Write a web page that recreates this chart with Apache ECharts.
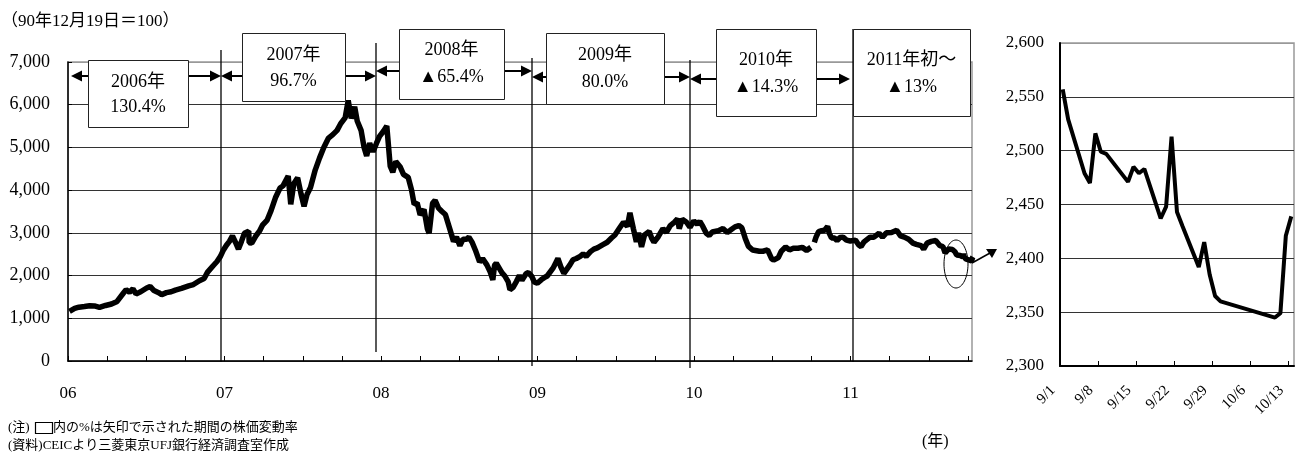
<!DOCTYPE html>
<html>
<head>
<meta charset="utf-8">
<script src="https://cdn.jsdelivr.net/npm/echarts@6/dist/echarts.min.js"></script>
<style>
html,body{margin:0;padding:0;background:#fff;}
#chart{width:1299px;height:461px;}
</style>
</head>
<body>
<div id="chart"></div>
<script>
// Shanghai Composite index (1990-12-19 = 100), selected closes Jan 2006 – Aug 2011
const mainDates = [
  '2006-01-04','2006-01-16','2006-01-26','2006-02-08','2006-02-20','2006-03-03','2006-03-15','2006-03-29',
  '2006-04-12','2006-04-25','2006-05-09','2006-05-16','2006-05-24','2006-06-01','2006-06-08','2006-06-19',
  '2006-07-03','2006-07-11','2006-07-20','2006-07-31','2006-08-07','2006-08-18','2006-08-29','2006-09-08',
  '2006-09-22','2006-10-09','2006-10-20','2006-11-03','2006-11-14','2006-11-22','2006-12-05','2006-12-14',
  '2006-12-22','2006-12-29',
  '2007-01-05','2007-01-12','2007-01-19','2007-01-26','2007-02-02','2007-02-09','2007-02-16','2007-02-26',
  '2007-02-27','2007-03-05','2007-03-14','2007-03-23','2007-03-30','2007-04-10','2007-04-19','2007-04-30',
  '2007-05-10','2007-05-17','2007-05-29','2007-06-04','2007-06-11','2007-06-20','2007-06-28','2007-07-05',
  '2007-07-12','2007-07-20','2007-07-31','2007-08-10','2007-08-20','2007-08-31','2007-09-10','2007-09-20',
  '2007-09-28','2007-10-09','2007-10-16','2007-10-23','2007-10-31','2007-11-06','2007-11-15','2007-11-22',
  '2007-11-28','2007-12-05','2007-12-13','2007-12-21','2007-12-28',
  '2008-01-07','2008-01-14','2008-01-22','2008-01-28','2008-02-04','2008-02-14','2008-02-22','2008-03-04',
  '2008-03-12','2008-03-18','2008-03-25','2008-04-01','2008-04-10','2008-04-18','2008-04-22','2008-04-30',
  '2008-05-06','2008-05-14','2008-05-22','2008-05-30','2008-06-10','2008-06-18','2008-06-25','2008-07-03',
  '2008-07-10','2008-07-18','2008-07-24','2008-08-01','2008-08-08','2008-08-18','2008-08-25','2008-09-04',
  '2008-09-12','2008-09-18','2008-09-22','2008-09-26','2008-10-09','2008-10-16','2008-10-24','2008-10-28',
  '2008-11-04','2008-11-12','2008-11-19','2008-11-25','2008-12-05','2008-12-10','2008-12-18','2008-12-24',
  '2008-12-31',
  '2009-01-09','2009-01-16','2009-01-23','2009-02-06','2009-02-13','2009-02-17','2009-02-24','2009-03-03',
  '2009-03-10','2009-03-17','2009-03-24','2009-04-01','2009-04-10','2009-04-17','2009-04-24','2009-05-04',
  '2009-05-12','2009-05-20','2009-06-01','2009-06-12','2009-06-22','2009-06-30','2009-07-10','2009-07-20',
  '2009-07-29','2009-08-04','2009-08-12','2009-08-19','2009-08-24','2009-08-31','2009-09-07','2009-09-18',
  '2009-09-24','2009-09-29','2009-10-09','2009-10-20','2009-10-28','2009-11-06','2009-11-16','2009-11-23',
  '2009-11-27','2009-12-04','2009-12-14','2009-12-22','2009-12-31',
  '2010-01-08','2010-01-14','2010-01-21','2010-01-29','2010-02-05','2010-02-12','2010-02-26','2010-03-09',
  '2010-03-19','2010-03-26','2010-04-06','2010-04-15','2010-04-22','2010-04-30','2010-05-07','2010-05-17',
  '2010-05-21','2010-06-02','2010-06-10','2010-06-21','2010-06-30','2010-07-05','2010-07-16','2010-07-23',
  '2010-08-02','2010-08-11','2010-08-20','2010-08-31','2010-09-10','2010-09-20','2010-09-30','2010-10-05',
  '2010-10-08','2010-10-12','2010-10-18','2010-10-25','2010-11-01','2010-11-08','2010-11-12','2010-11-17',
  '2010-11-24','2010-11-30','2010-12-07','2010-12-14','2010-12-22','2010-12-31',
  '2011-01-04','2011-01-12','2011-01-20','2011-01-25','2011-02-01','2011-02-15','2011-02-24','2011-03-08',
  '2011-03-16','2011-03-25','2011-04-06','2011-04-18','2011-04-27','2011-05-06','2011-05-16','2011-05-26',
  '2011-06-03','2011-06-14','2011-06-20','2011-06-28','2011-07-08','2011-07-18','2011-07-28','2011-08-04',
  '2011-08-09','2011-08-17','2011-08-26'
];
const mainValues = [
  1161,1230,1260,1275,1295,1290,1255,1300,
  1335,1395,1580,1670,1610,1690,1570,1620,
  1710,1745,1650,1600,1555,1600,1620,1660,
  1700,1760,1790,1880,1930,2080,2230,2330,
  2450,2600,
  2710,2800,2930,2780,2620,2800,2990,3040,
  2770,2760,2920,3040,3180,3300,3520,3840,
  4050,4100,4330,3670,4150,4290,3910,3620,
  3900,4060,4470,4750,5000,5220,5300,5400,
  5550,5700,6100,5680,5950,5620,5400,5000,
  4800,5100,4900,5100,5260,
  5390,5500,4560,4420,4670,4550,4370,4300,
  4000,3670,3700,3420,3550,3090,2990,3690,
  3760,3580,3500,3430,3070,2800,2900,2700,
  2850,2850,2900,2770,2600,2320,2400,2250,
  2080,1900,2240,2290,2070,1990,1850,1670,
  1720,1860,2000,1890,2050,2070,1980,1850,
  1820,
  1900,1950,1990,2180,2320,2400,2200,2050,
  2150,2250,2370,2400,2450,2510,2450,2560,
  2620,2650,2720,2780,2880,2950,3100,3250,
  3150,3470,3100,2790,3000,2670,2950,3030,
  2870,2780,2910,3100,3010,3170,3250,3330,
  3100,3320,3250,3130,3280,
  3200,3270,3150,2990,2940,3020,3050,3100,
  3010,3060,3140,3170,3120,2870,2690,2600,
  2580,2570,2570,2600,2400,2360,2420,2570,
  2670,2600,2640,2640,2660,2590,2660,null,
  2780,2900,3030,3050,3060,3150,2990,2880,
  2880,2820,2890,2900,2830,2810,
  2850,2830,2710,2680,2790,2900,2900,2990,
  2900,3000,3010,3060,2930,2900,2850,2760,
  2730,2700,2620,2760,2800,2820,2700,2680,
  2530,2620,2610
];
// Daily closes, 1 Sep – 13 Oct 2011
const detailDates = [
  '2011-09-01','2011-09-02','2011-09-05','2011-09-06','2011-09-07','2011-09-08','2011-09-09','2011-09-13',
  '2011-09-14','2011-09-15','2011-09-16','2011-09-19','2011-09-20','2011-09-21','2011-09-22','2011-09-23',
  '2011-09-26','2011-09-27','2011-09-28','2011-09-29','2011-09-30','2011-10-10','2011-10-11','2011-10-12',
  '2011-10-13'
];
const detailValues = [
  2557,2529,2479,2470,2516,2499,2497,2471,
  2485,2479,2483,2437,2448,2513,2443,2430,
  2392,2415,2385,2365,2360,2345,2349,2421,
  2439
];
const yearLabels = ['06','07','08','09','10','11'];
const detailTickLabels = ['9/1','9/8','9/15','9/22','9/29','10/6','10/13'];
const periodLabels = [
  ['2006年','130.4%'],['2007年','96.7%'],['2008年','▲65.4%'],
  ['2009年','80.0%'],['2010年','▲14.3%'],['2011年初～','▲13%']
];

const FONT = "'Liberation Serif','Noto Sans CJK JP',serif";

function decYear(s) {
  const [y, m, d] = s.split('-').map(Number);
  const a = Date.UTC(y, 0, 1), b = Date.UTC(y + 1, 0, 1);
  return y + (Date.UTC(y, m - 1, d) - a + 43200000) / (b - a);
}
const DETAIL_START = Date.UTC(2011, 8, 1);
function dayOffset(s) {
  const [y, m, d] = s.split('-').map(Number);
  return (Date.UTC(y, m - 1, d) - DETAIL_START) / 864e5 + 0.5;
}

const mainData = mainDates.map((d, i) => [decYear(d), mainValues[i]])
  .concat(detailDates.map((d, i) => [decYear(d), detailValues[i]]));
const detailData = detailDates.map((d, i) => [dayOffset(d), detailValues[i]]);

// annotation layout (px)
const boxLayout = [
  {x: 88,  y: 60, w: 100, h: 67, ty: [82, 107]},
  {x: 242, y: 33, w: 103, h: 68, ty: [55, 81]},
  {x: 399, y: 29, w: 105, h: 70, ty: [50, 77]},
  {x: 546, y: 33, w: 118, h: 71, ty: [55, 82]},
  {x: 716, y: 29, w: 100, h: 87, ty: [60, 87]},
  {x: 853, y: 29, w: 117, h: 87, ty: [60, 87]}
];
const arrowLayout = [[71, 221, 76], [221, 376, 76], [376, 532, 71], [532, 690, 77], [690, 850, 79]];
const dividerLayout = [[221, 50, 362], [376, 43, 352], [532, 58, 366], [690, 60, 368], [853, 29, 362]];

const g = [];
dividerLayout.forEach(([x, y1, y2]) => g.push({
  type: 'line', z: 10, shape: {x1: x, y1: y1, x2: x, y2: y2},
  style: {stroke: '#000', lineWidth: 1.3}
}));
function head(tipX, y, dir) {
  const L = 11, H = 5.5;
  return {type: 'polygon', z: 11, shape: {points: [[tipX, y], [tipX - dir * L, y - H], [tipX - dir * L, y + H]]},
          style: {fill: '#000'}};
}
arrowLayout.forEach(([x1, x2, y]) => {
  g.push({type: 'line', z: 11, shape: {x1: x1 + 4, y1: y, x2: x2 - 4, y2: y}, style: {stroke: '#000', lineWidth: 2}});
  g.push(head(x1, y, -1));
  g.push(head(x2, y, 1));
});
boxLayout.forEach((b, i) => {
  g.push({type: 'rect', z: 12, shape: {x: b.x + 0.5, y: b.y + 0.5, width: b.w, height: b.h},
          style: {fill: '#fff', stroke: '#222', lineWidth: 1}});
  periodLabels[i].forEach((t, k) => g.push({
    type: 'text', z: 13, x: b.x + b.w / 2, y: b.ty[k],
    style: {text: t, font: '18px ' + FONT, fill: '#000', align: 'center', verticalAlign: 'middle',
            textAlign: 'center', textVerticalAlign: 'middle'}
  }));
});
// highlighted end of the series and pointer to the detail panel
g.push({type: 'ellipse', z: 12, shape: {cx: 956, cy: 264, rx: 12, ry: 24},
        style: {fill: 'none', stroke: '#000', lineWidth: 1}});
g.push({type: 'line', z: 12, shape: {x1: 972, y1: 263, x2: 990, y2: 253}, style: {stroke: '#000', lineWidth: 1.5}});
g.push({type: 'polygon', z: 12, shape: {points: [[997, 249], [986, 249], [992, 258]]}, style: {fill: '#000'}});

function txt(x, y, s, size, align) {
  return {type: 'text', z: 13, x: x, y: y,
          style: {text: s, font: size + 'px ' + FONT, fill: '#000', align: align || 'left', verticalAlign: 'middle',
                  textAlign: align || 'left', textVerticalAlign: 'middle'}};
}
g.push(txt(1, 22, '（90年12月19日＝100）', 17));
g.push(txt(922, 442, '(年)', 16));
g.push(txt(8, 428, '(注)', 13));
g.push({type: 'rect', z: 13, shape: {x: 35.5, y: 422.5, width: 17, height: 11}, style: {fill: 'none', stroke: '#000', lineWidth: 1.2}});
g.push(txt(53, 428, '内の%は矢印で示された期間の株価変動率', 13));
g.push(txt(8, 446, '(資料)CEICより三菱東京UFJ銀行経済調査室作成', 13));

const axisFont = {fontFamily: FONT, color: '#000'};

const option = {
  animation: false,
  backgroundColor: '#fff',
  grid: [
    {left: 68, top: 62, width: 904, height: 299, show: true, borderColor: '#999', borderWidth: 1.5, backgroundColor: 'transparent'},
    {left: 1060, top: 43, width: 234, height: 323, show: true, borderColor: '#999', borderWidth: 1.5, backgroundColor: 'transparent'}
  ],
  xAxis: [
    {
      type: 'value', gridIndex: 0, min: 2006, max: 2011.776, interval: 0.25,
      axisLine: {lineStyle: {color: '#000', width: 1.5}},
      axisTick: {inside: true, length: 5, lineStyle: {color: '#000', width: 1}},
      axisLabel: Object.assign({fontSize: 17, margin: 24, showMaxLabel: false,
        formatter: v => Number.isInteger(v) ? (yearLabels[v - 2006] || '') : ''}, axisFont),
      splitLine: {show: false}
    },
    {
      type: 'value', gridIndex: 1, min: 0, max: 43, interval: 7,
      axisLine: {lineStyle: {color: '#000', width: 2}},
      axisTick: {inside: true, length: 5, lineStyle: {color: '#000', width: 1}},
      axisLabel: Object.assign({fontSize: 15, margin: 15, rotate: 45, padding: [0, 10, 0, 0], showMaxLabel: false,
        formatter: v => detailTickLabels[Math.round(v / 7)] || ''}, axisFont),
      splitLine: {show: false}
    }
  ],
  yAxis: [
    {
      type: 'value', gridIndex: 0, min: 0, max: 7000, interval: 1000,
      axisLine: {show: true, lineStyle: {color: '#000', width: 1.5}},
      axisTick: {show: true, inside: true, length: 4, lineStyle: {color: '#000'}},
      axisLabel: Object.assign({fontSize: 18, margin: 18, formatter: v => v.toLocaleString('en-US')}, axisFont),
      splitLine: {lineStyle: {color: ['#333', '#333', '#333', '#333', '#333', '#333', '#333', '#999'], width: 1}}
    },
    {
      type: 'value', gridIndex: 1, min: 2300, max: 2600, interval: 50,
      axisLine: {show: true, lineStyle: {color: '#000', width: 2}},
      axisTick: {show: false},
      axisLabel: Object.assign({fontSize: 17, margin: 16, formatter: v => v.toLocaleString('en-US')}, axisFont),
      splitLine: {lineStyle: {color: ['#333', '#333', '#333', '#333', '#333', '#333', '#999'], width: 1}}
    }
  ],
  series: [
    {type: 'line', xAxisIndex: 0, yAxisIndex: 0, data: mainData, showSymbol: false, connectNulls: false,
     lineStyle: {color: '#000', width: 5.5}, z: 5},
    {type: 'line', xAxisIndex: 1, yAxisIndex: 1, data: detailData, showSymbol: false,
     lineStyle: {color: '#000', width: 4}, z: 5}
  ],
  graphic: g
};

const chart = echarts.init(document.getElementById('chart'), null, {renderer: 'canvas'});
chart.setOption(option);
</script>
</body>
</html>
